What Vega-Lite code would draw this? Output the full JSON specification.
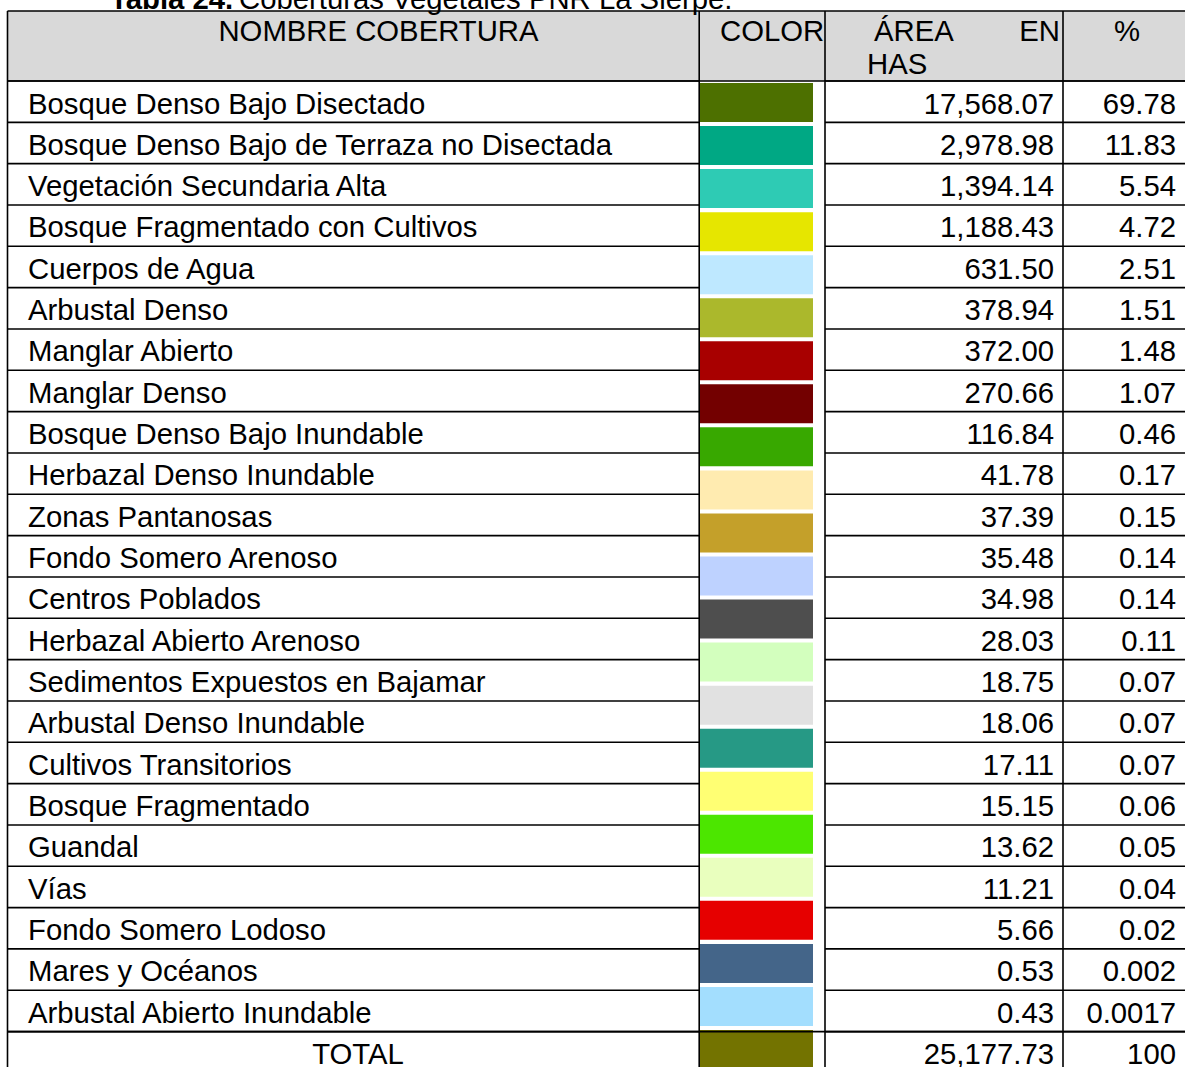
{
  "$schema": "https://vega.github.io/schema/vega-lite/v6.json",
  "width": 1185,
  "height": 1067,
  "padding": 0,
  "autosize": {"type": "none"},
  "background": "white",
  "config": {
    "view": {"stroke": null},
    "axis": {"disable": true},
    "text": {"font": "Liberation Sans", "fontSize": 29.3, "color": "#000000"},
    "rule": {"stroke": "#000000", "strokeWidth": 1.6}
  },
  "datasets": {
    "rows": [
      {"row": 0, "name": "Bosque Denso Bajo Disectado", "area": 17568.07, "pct": 69.78},
      {"row": 1, "name": "Bosque Denso Bajo de Terraza no Disectada", "area": 2978.98, "pct": 11.83},
      {"row": 2, "name": "Vegetación Secundaria Alta", "area": 1394.14, "pct": 5.54},
      {"row": 3, "name": "Bosque Fragmentado con Cultivos", "area": 1188.43, "pct": 4.72},
      {"row": 4, "name": "Cuerpos de Agua", "area": 631.5, "pct": 2.51},
      {"row": 5, "name": "Arbustal Denso", "area": 378.94, "pct": 1.51},
      {"row": 6, "name": "Manglar Abierto", "area": 372.0, "pct": 1.48},
      {"row": 7, "name": "Manglar Denso", "area": 270.66, "pct": 1.07},
      {"row": 8, "name": "Bosque Denso Bajo Inundable", "area": 116.84, "pct": 0.46},
      {"row": 9, "name": "Herbazal Denso Inundable", "area": 41.78, "pct": 0.17},
      {"row": 10, "name": "Zonas Pantanosas", "area": 37.39, "pct": 0.15},
      {"row": 11, "name": "Fondo Somero Arenoso", "area": 35.48, "pct": 0.14},
      {"row": 12, "name": "Centros Poblados", "area": 34.98, "pct": 0.14},
      {"row": 13, "name": "Herbazal Abierto Arenoso", "area": 28.03, "pct": 0.11},
      {"row": 14, "name": "Sedimentos Expuestos en Bajamar", "area": 18.75, "pct": 0.07},
      {"row": 15, "name": "Arbustal Denso Inundable", "area": 18.06, "pct": 0.07},
      {"row": 16, "name": "Cultivos Transitorios", "area": 17.11, "pct": 0.07},
      {"row": 17, "name": "Bosque Fragmentado", "area": 15.15, "pct": 0.06},
      {"row": 18, "name": "Guandal", "area": 13.62, "pct": 0.05},
      {"row": 19, "name": "Vías", "area": 11.21, "pct": 0.04},
      {"row": 20, "name": "Fondo Somero Lodoso", "area": 5.66, "pct": 0.02},
      {"row": 21, "name": "Mares y Océanos", "area": 0.53, "pct": 0.002},
      {"row": 22, "name": "Arbustal Abierto Inundable", "area": 0.43, "pct": 0.0017},
      {"row": 23, "name": "TOTAL", "area": 25177.73, "pct": 100}
    ],
    "swatches": [
      {"k": 0, "cover": "Bosque Denso Bajo Disectado"},
      {"k": 1, "cover": "Bosque Denso Bajo de Terraza no Disectada"},
      {"k": 2, "cover": "Vegetación Secundaria Alta"},
      {"k": 3, "cover": "Bosque Fragmentado con Cultivos"},
      {"k": 4, "cover": "Cuerpos de Agua"},
      {"k": 5, "cover": "Arbustal Denso"},
      {"k": 6, "cover": "Manglar Abierto"},
      {"k": 7, "cover": "Manglar Denso"},
      {"k": 8, "cover": "Bosque Denso Bajo Inundable"},
      {"k": 9, "cover": "Herbazal Denso Inundable"},
      {"k": 10, "cover": "Zonas Pantanosas"},
      {"k": 11, "cover": "Fondo Somero Arenoso"},
      {"k": 12, "cover": "Centros Poblados"},
      {"k": 13, "cover": "Herbazal Abierto Arenoso"},
      {"k": 14, "cover": "Arbustal Denso Inundable"},
      {"k": 15, "cover": "Cultivos Transitorios"},
      {"k": 16, "cover": "Bosque Fragmentado"},
      {"k": 17, "cover": "Guandal"},
      {"k": 18, "cover": "Vías"},
      {"k": 19, "cover": "Fondo Somero Lodoso"},
      {"k": 20, "cover": "Mares y Océanos"},
      {"k": 21, "cover": "Arbustal Abierto Inundable"},
      {"k": 22, "cover": "TOTAL"}
    ]
  },
  "resolve": {"scale": {"y": "independent"}},
  "layer": [
    {
      "data": {"name": "swatches"},
      "mark": {"type": "rect", "strokeWidth": 0},
      "encoding": {
        "x": {"datum": 700, "type": "quantitative", "scale": {"domain": [0, 1185], "nice": false, "zero": false}},
        "x2": {"datum": 813},
        "y": {"field": "k", "type": "ordinal", "scale": {"type": "band", "range": [83, 1069], "paddingInner": 0.094, "paddingOuter": 0}},
        "fill": {
          "field": "cover", "type": "nominal", "legend": null,
          "scale": {
            "domain": ["Bosque Denso Bajo Disectado", "Bosque Denso Bajo de Terraza no Disectada", "Vegetación Secundaria Alta", "Bosque Fragmentado con Cultivos", "Cuerpos de Agua", "Arbustal Denso", "Manglar Abierto", "Manglar Denso", "Bosque Denso Bajo Inundable", "Herbazal Denso Inundable", "Zonas Pantanosas", "Fondo Somero Arenoso", "Centros Poblados", "Herbazal Abierto Arenoso", "Arbustal Denso Inundable", "Cultivos Transitorios", "Bosque Fragmentado", "Guandal", "Vías", "Fondo Somero Lodoso", "Mares y Océanos", "Arbustal Abierto Inundable", "TOTAL"],
            "range": ["#4d7000", "#00a884", "#2ecbb4", "#e6e600", "#bee8ff", "#abb82c", "#a80000", "#730000", "#38a800", "#ffebb0", "#c4a02a", "#bed2ff", "#4e4e4e", "#d3ffbe", "#e1e1e1", "#269985", "#ffff73", "#4ce600", "#e9ffbe", "#e60000", "#446589", "#a3defe", "#737300"]
          }
        }
      }
    },
    {
      "layer": [
        {
          "data": {"values": [{}]},
          "mark": {"type": "rect", "fill": "#d9d9d9", "strokeWidth": 0},
          "encoding": {
            "x": {"datum": 7.5, "type": "quantitative"},
            "x2": {"datum": 1185},
            "y": {"datum": -1.694, "type": "quantitative", "scale": {"domain": [-1.96, 23.857], "reverse": true, "nice": false, "zero": false}},
            "y2": {"datum": 0}
          }
        },
        {
          "data": {"name": "rows"},
          "mark": {"type": "rule"},
          "encoding": {
            "x": {"datum": 7.5, "type": "quantitative"},
            "x2": {"datum": 699},
            "y": {"field": "row", "type": "quantitative"}
          }
        },
        {
          "data": {"name": "rows"},
          "mark": {"type": "rule"},
          "encoding": {
            "x": {"datum": 825, "type": "quantitative"},
            "x2": {"datum": 1185},
            "y": {"field": "row", "type": "quantitative"}
          }
        },
        {
          "data": {"values": [{}]},
          "mark": {"type": "rule"},
          "encoding": {"x": {"datum": 7.5, "type": "quantitative"}, "x2": {"datum": 1185}, "y": {"datum": -1.694, "type": "quantitative"}}
        },
        {
          "data": {"values": [{}]},
          "mark": {"type": "rule"},
          "encoding": {"x": {"datum": 7.5, "type": "quantitative"}, "x2": {"datum": 1185}, "y": {"datum": 0, "type": "quantitative"}}
        },
        {
          "data": {"values": [{}]},
          "mark": {"type": "rule"},
          "encoding": {"x": {"datum": 7.5, "type": "quantitative"}, "x2": {"datum": 1185}, "y": {"datum": 23, "type": "quantitative"}}
        },
        {
          "data": {"values": [{}]},
          "mark": {"type": "rule"},
          "encoding": {"x": {"datum": 7.5, "type": "quantitative"}, "y": {"datum": -1.694, "type": "quantitative"}, "y2": {"datum": 24.5}}
        },
        {
          "data": {"values": [{}]},
          "mark": {"type": "rule"},
          "encoding": {"x": {"datum": 699.2, "type": "quantitative"}, "y": {"datum": -1.694, "type": "quantitative"}, "y2": {"datum": 24.5}}
        },
        {
          "data": {"values": [{}]},
          "mark": {"type": "rule"},
          "encoding": {"x": {"datum": 825, "type": "quantitative"}, "y": {"datum": -1.694, "type": "quantitative"}, "y2": {"datum": 24.5}}
        },
        {
          "data": {"values": [{}]},
          "mark": {"type": "rule"},
          "encoding": {"x": {"datum": 1063, "type": "quantitative"}, "y": {"datum": -1.694, "type": "quantitative"}, "y2": {"datum": 24.5}}
        },
        {
          "data": {"values": [{}]},
          "mark": {"type": "text", "align": "left", "baseline": "alphabetic", "fontWeight": "bold"},
          "encoding": {"x": {"datum": 110, "type": "quantitative"}, "y": {"datum": -1.754, "type": "quantitative"}, "text": {"value": "Tabla 24."}}
        },
        {
          "data": {"values": [{}]},
          "mark": {"type": "text", "align": "left", "baseline": "alphabetic"},
          "encoding": {"x": {"datum": 239, "type": "quantitative"}, "y": {"datum": -1.754, "type": "quantitative"}, "text": {"value": "Coberturas Vegetales PNR La Sierpe."}}
        },
        {
          "data": {"values": [{}]},
          "mark": {"type": "text", "align": "center", "baseline": "alphabetic"},
          "encoding": {"x": {"datum": 378.5, "type": "quantitative"}, "y": {"datum": -0.98, "type": "quantitative"}, "text": {"value": "NOMBRE COBERTURA"}}
        },
        {
          "data": {"values": [{}]},
          "mark": {"type": "text", "align": "left", "baseline": "alphabetic"},
          "encoding": {"x": {"datum": 720, "type": "quantitative"}, "y": {"datum": -0.98, "type": "quantitative"}, "text": {"value": "COLOR"}}
        },
        {
          "data": {"values": [{}]},
          "mark": {"type": "text", "align": "left", "baseline": "alphabetic"},
          "encoding": {"x": {"datum": 874, "type": "quantitative"}, "y": {"datum": -0.98, "type": "quantitative"}, "text": {"value": "ÁREA"}}
        },
        {
          "data": {"values": [{}]},
          "mark": {"type": "text", "align": "right", "baseline": "alphabetic"},
          "encoding": {"x": {"datum": 1060, "type": "quantitative"}, "y": {"datum": -0.98, "type": "quantitative"}, "text": {"value": "EN"}}
        },
        {
          "data": {"values": [{}]},
          "mark": {"type": "text", "align": "left", "baseline": "alphabetic"},
          "encoding": {"x": {"datum": 867, "type": "quantitative"}, "y": {"datum": -0.169, "type": "quantitative"}, "text": {"value": "HAS"}}
        },
        {
          "data": {"values": [{}]},
          "mark": {"type": "text", "align": "center", "baseline": "alphabetic"},
          "encoding": {"x": {"datum": 1127, "type": "quantitative"}, "y": {"datum": -0.98, "type": "quantitative"}, "text": {"value": "%"}}
        },
        {
          "data": {"name": "rows"},
          "transform": [{"filter": "datum.name !== 'TOTAL'"}],
          "mark": {"type": "text", "align": "left", "baseline": "alphabetic", "dy": 32.5},
          "encoding": {"x": {"datum": 28, "type": "quantitative"}, "y": {"field": "row", "type": "quantitative"}, "text": {"field": "name", "type": "nominal"}}
        },
        {
          "data": {"name": "rows"},
          "transform": [{"filter": "datum.name === 'TOTAL'"}],
          "mark": {"type": "text", "align": "center", "baseline": "alphabetic", "dy": 32.5},
          "encoding": {"x": {"datum": 358, "type": "quantitative"}, "y": {"field": "row", "type": "quantitative"}, "text": {"field": "name", "type": "nominal"}}
        },
        {
          "data": {"name": "rows"},
          "mark": {"type": "text", "align": "right", "baseline": "alphabetic", "dy": 32.5},
          "encoding": {"x": {"datum": 1054, "type": "quantitative"}, "y": {"field": "row", "type": "quantitative"}, "text": {"field": "area", "type": "quantitative", "format": ",.2f"}}
        },
        {
          "data": {"name": "rows"},
          "mark": {"type": "text", "align": "right", "baseline": "alphabetic", "dy": 32.5},
          "encoding": {"x": {"datum": 1176, "type": "quantitative"}, "y": {"field": "row", "type": "quantitative"}, "text": {"field": "pct", "type": "nominal"}}
        }
      ]
    }
  ]
}
